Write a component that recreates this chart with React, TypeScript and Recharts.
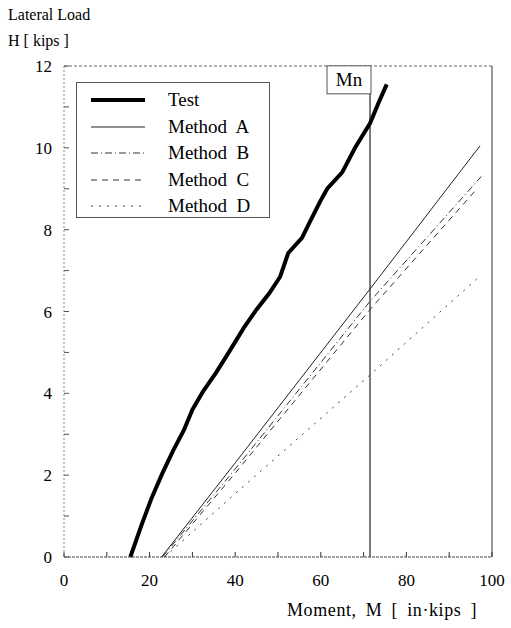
import React from 'react';
import { LineChart, Line, XAxis, YAxis, ReferenceLine, Legend } from 'recharts';

// moment M [in-kips] vs lateral load H [kips]
const testM = [15.5, 18, 20.5, 23, 25.5, 28, 30, 32.5, 35.5, 38.5, 42, 45, 48, 50.5, 52.4, 55.6, 57.5, 59.8, 61.5, 65, 68, 71.5, 73.5, 75.4];
const testH = [0, 0.75, 1.45, 2.05, 2.6, 3.1, 3.6, 4.05, 4.5, 5.0, 5.6, 6.05, 6.45, 6.85, 7.43, 7.8, 8.2, 8.68, 9.0, 9.4, 10.0, 10.6, 11.1, 11.55];

const methodAM = [22.8, 40, 71.5, 97.2];
const methodAH = [0, 2.3, 6.55, 10.05];
const methodBM = [23, 40, 71.5, 97.5];
const methodBH = [0, 2.15, 6.25, 9.3];
const methodCM = [23.5, 40, 71.5, 96.5];
const methodCH = [0, 2.05, 6.05, 9.0];
const methodDM = [23.5, 40, 71.5, 96.5];
const methodDH = [0, 1.55, 4.45, 6.8];

const Mn = 71.5;
const MnTop = 11.32;

const xTicks = [0, 10, 20, 30, 40, 50, 60, 70, 80, 90, 100];
const yTicks = [0, 1, 2, 3, 4, 5, 6, 7, 8, 9, 10, 11, 12];

const toRows = (m: number[], h: number[]) => m.map((v, i) => ({ M: v, H: h[i] }));

const series = [
  { name: 'Test', data: toRows(testM, testH), width: 4, dash: undefined as string | undefined, color: '#000' },
  { name: 'Method  A', data: toRows(methodAM, methodAH), width: 1, dash: undefined, color: '#222' },
  { name: 'Method  B', data: toRows(methodBM, methodBH), width: 1, dash: '7 3 1 3', color: '#333' },
  { name: 'Method  C', data: toRows(methodCM, methodCH), width: 1, dash: '6 5', color: '#333' },
  { name: 'Method  D', data: toRows(methodDM, methodDH), width: 1, dash: '2 6', color: '#444' },
];

const serif = '"Liberation Serif", "Times New Roman", serif';

const XTick = (props: any) => {
  const { x, y, payload } = props;
  const v = payload.value;
  return (
    <g>
      <line x1={x} y1={y} x2={x} y2={y - 5} stroke="#333" strokeWidth={1} />
      {v % 20 === 0 && (
        <text x={x} y={y + 29} textAnchor="middle" fontFamily={serif} fontSize={17} fill="#000">
          {v}
        </text>
      )}
    </g>
  );
};

const YTick = (props: any) => {
  const { x, y, payload } = props;
  const v = payload.value;
  return (
    <g>
      <line x1={x} y1={y} x2={x + 5} y2={y} stroke="#555" strokeWidth={1} />
      {v % 2 === 0 && (
        <text x={x - 12} y={y + 6} textAnchor="end" fontFamily={serif} fontSize={17} fill="#000">
          {v}
        </text>
      )}
    </g>
  );
};

const MnLabel = (props: any) => {
  const vb = props.viewBox || {};
  const x = vb.x + (vb.width || 0);
  const y = vb.y;
  return (
    <g>
      <rect x={x - 43} y={y - 28} width={44} height={28} fill="#fff" stroke="#555" strokeWidth={1} />
      <text x={x - 21} y={y - 8} textAnchor="middle" fontFamily={serif} fontSize={19} fill="#000">
        Mn
      </text>
    </g>
  );
};

const LegendBox = () => (
  <div
    style={{
      border: '1px solid #555',
      width: 194,
      height: 136,
      boxSizing: 'border-box',
      padding: '4px 0 0 0',
      background: '#fff',
    }}
  >
    {series.map((s) => (
      <div key={s.name} style={{ display: 'flex', alignItems: 'center', height: 26.5 }}>
        <svg width={79} height={12} style={{ marginLeft: 12 }}>
          <line x1={2} y1={6} x2={56} y2={6} stroke={s.color} strokeWidth={s.width} strokeDasharray={s.dash} />
        </svg>
        <span style={{ fontFamily: serif, fontSize: 19, color: '#000', whiteSpace: 'pre' }}>{s.name}</span>
      </div>
    ))}
  </div>
);

export default function App() {
  return (
    <div style={{ position: 'absolute', left: 0, top: 0, width: 511, height: 628, background: '#fff' }}>
      <div style={{ position: 'absolute', left: 8, top: 2, fontFamily: serif, fontSize: 16, lineHeight: '26px' }}>
        Lateral Load
        <br />
        H [ kips ]
      </div>
      <div
        style={{
          position: 'absolute',
          left: 287,
          top: 600,
          fontFamily: serif,
          fontSize: 18,
          letterSpacing: 0.6,
          wordSpacing: 4,
          whiteSpace: 'pre',
        }}
      >
        Moment, M [ in·kips ]
      </div>
      <LineChart width={511} height={628} margin={{ top: 66, right: 19, bottom: 41, left: 14 }}>
        <XAxis
          type="number"
          dataKey="M"
          domain={[0, 100]}
          ticks={xTicks}
          tick={<XTick />}
          tickLine={false}
          tickSize={0}
          tickMargin={0}
          axisLine={{ stroke: '#444', strokeDasharray: '3 1' }}
          allowDuplicatedCategory={false}
          height={30}
        />
        <YAxis
          type="number"
          dataKey="H"
          domain={[0, 12]}
          ticks={yTicks}
          tick={<YTick />}
          tickLine={false}
          tickSize={0}
          tickMargin={0}
          axisLine={{ stroke: '#888', strokeDasharray: '2 2' }}
          width={50}
        />
        <ReferenceLine y={12} stroke="#666" strokeDasharray="3 2" />
        <ReferenceLine x={100} stroke="#333" />
        <ReferenceLine
          segment={[{ x: Mn, y: 0 }, { x: Mn, y: MnTop }]}
          stroke="#222"
          strokeWidth={1.2}
          label={<MnLabel />}
        />
        {series.map((s) => (
          <Line
            key={s.name}
            data={s.data}
            dataKey="H"
            name={s.name}
            type="linear"
            stroke={s.color}
            strokeWidth={s.width}
            strokeDasharray={s.dash}
            dot={false}
            activeDot={false}
            isAnimationActive={false}
          />
        ))}
        <Legend
          layout="vertical"
          align="center"
          verticalAlign="middle"
          content={<LegendBox />}
          wrapperStyle={{ position: 'absolute', left: 76, top: 82, width: 194, height: 136 }}
        />
      </LineChart>
    </div>
  );
}
